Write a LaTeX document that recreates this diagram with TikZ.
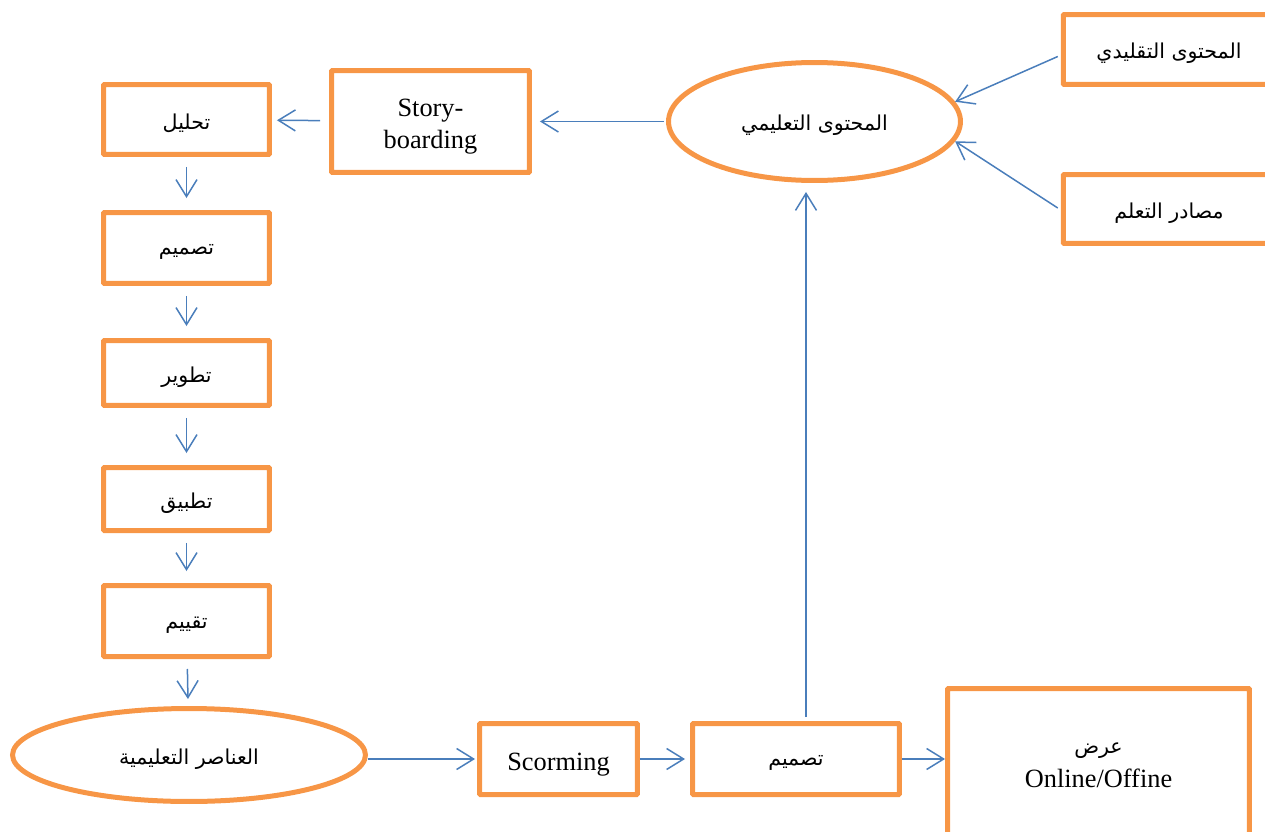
\documentclass[tikz,border=0pt]{standalone}
\usepackage{fontspec}
\setmainfont{Liberation Serif}
\newfontfamily\arfont[Script=Arabic,Scale=0.78]{DejaVu Sans}
\TeXXeTstate=1
\newcommand\ARt[1]{{\arfont\beginR #1\endR}}
\newcommand\AR[1]{\raisebox{-0.08cm}[\height][\depth]{\arfont\beginR #1\endR}}
\newcommand\SH[2]{\raisebox{#1}[\height][\depth]{\begin{tabular}{@{}c@{}}#2\end{tabular}}}
\usetikzlibrary{shapes.geometric,arrows.meta,calc}
\definecolor{orng}{HTML}{F79646}
\definecolor{blu}{HTML}{4A7EBB}
\begin{document}
\begin{tikzpicture}[x=0.02cm,y=-0.02cm,
  font=\fontsize{15}{17.5}\selectfont,
  box/.style={draw=orng,line width=0.1cm,inner sep=0pt,align=center,rectangle,rounded corners=0.5pt},
  ell/.style={draw=orng,line width=0.1cm,inner sep=0pt,align=center,ellipse},
  arr/.style={draw=blu,line width=0.03cm,-{Straight Barb[length=0.34cm,width=0.42cm,line width=0.03cm]}}
]
\useasboundingbox (0,0) rectangle (1265,832);
% left column
\node[box,minimum width=3.32cm,minimum height=1.40cm] (a1) at (186.5,119.5) {\AR{تحليل}};
\node[box,minimum width=3.96cm,minimum height=2.04cm] (sb) at (430.5,121.5) {\SH{-0.1cm}{Story-\\[0.4pt]boarding}};
\node[box,minimum width=3.32cm,minimum height=1.42cm] (a2) at (186.5,248) {\AR{تصميم}};
\node[box,minimum width=3.32cm,minimum height=1.30cm] (a3) at (186.5,373) {\AR{تطوير}};
\node[box,minimum width=3.32cm,minimum height=1.26cm] (a4) at (186.5,499) {\AR{تطبيق}};
\node[box,minimum width=3.32cm,minimum height=1.42cm] (a5) at (186.5,621) {\AR{تقييم}};
\node[ell,minimum width=7.06cm,minimum height=1.86cm] (e2) at (189,755) {\AR{العناصر التعليمية}};
% bottom row
\node[box,minimum width=3.16cm,minimum height=1.42cm] (sc) at (558.5,759) {\SH{-0.11cm}{Scorming}};
\node[box,minimum width=4.14cm,minimum height=1.42cm] (d2) at (796,759) {\AR{تصميم}};
\node[box,minimum width=6.04cm,minimum height=3.20cm] (sh) at (1098.5,768.5) {\SH{0.08cm}{\ARt{عرض}\\[2pt]Online/Offine}};
% top right
\node[ell,minimum width=5.84cm,minimum height=2.36cm] (e1) at (814.5,121.5) {\AR{المحتوى التعليمي}};
\node[box,minimum width=4.23cm,minimum height=1.40cm] (t1) at (1169,49.5) {\AR{المحتوى التقليدي}};
\node[box,minimum width=4.23cm,minimum height=1.38cm] (t2) at (1169,209) {\AR{مصادر التعلم}};
\coordinate (up) at (806,0);
% connectors
\draw[arr,shorten <=0.18cm,shorten >=0.10cm] (sb) -- (a1);
\draw[arr,shorten <=0.04cm,shorten >=0.16cm] (e1) -- (sb);
\draw[arr,shorten <=0.20cm,shorten >=0.24cm] (a1) -- (a2);
\draw[arr,shorten <=0.20cm,shorten >=0.24cm] (a2) -- (a3);
\draw[arr,shorten <=0.20cm,shorten >=0.24cm] (a3) -- (a4);
\draw[arr,shorten <=0.20cm,shorten >=0.24cm] (a4) -- (a5);
\draw[arr,shorten <=0.20cm,shorten >=0.14cm] (a5) -- (e2);
\draw[arr,shorten >=0.04cm] (e2.east |- sc) -- (sc);
\draw[arr,shorten >=0.10cm] (sc) -- (d2);
\draw[arr] (d2) -- (d2 -| sh.west);
\draw[arr,shorten <=0.08cm,shorten >=0.18cm] (d2.north -| up) -- (e1.south -| up);
\draw[arr] ($(t1.west)+(-3,7)$) -- (e1.8);
\draw[arr] ($(t2.west)+(-3,-1)$) -- (e1.-8);
\end{tikzpicture}
\end{document}
